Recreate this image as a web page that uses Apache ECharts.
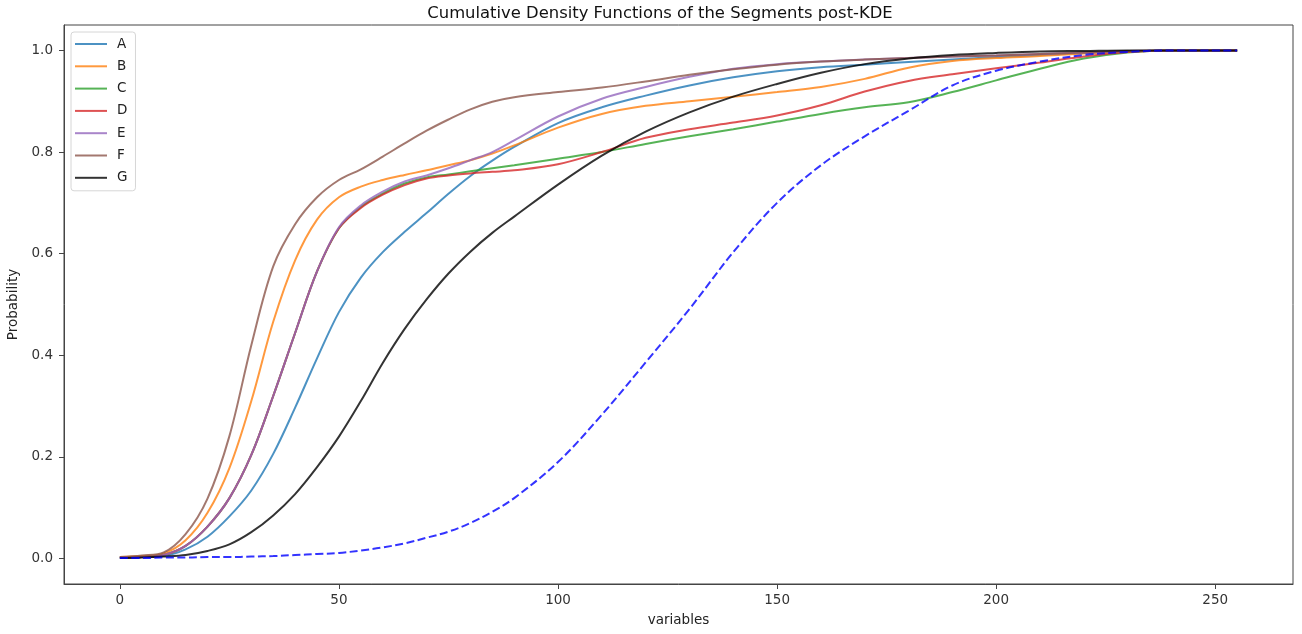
<!DOCTYPE html>
<html style="height:100%">
<head>
    <meta charset="utf-8">
    <script src="https://cdn.jsdelivr.net/npm/echarts@6/dist/echarts.min.js"></script>
    <title>CDF of the segments</title>
</head>
<body style="height:100%; margin:0; background:#fff">
    <div id="container" style="width:1302px; height:634px"></div>
    <script>
    var myChart = echarts.init(document.getElementById('container'));

    // x positions where the curves were read
    const xs = [0, 5, 10, 15, 20, 25, 30, 35, 40, 45, 50, 55, 60, 65, 70, 75, 80, 85, 90,
        100, 110, 120, 130, 140, 150, 160, 170, 180, 190, 200, 210, 220, 230, 240, 255];

    // CDF values per segment
    const segA = [0.002, 0.003, 0.005, 0.018, 0.043, 0.083, 0.134, 0.206, 0.297, 0.394, 0.485, 0.553, 0.603, 0.643, 0.680, 0.718, 0.753, 0.783, 0.810,
        0.857, 0.888, 0.911, 0.931, 0.947, 0.959, 0.967, 0.972, 0.977, 0.982, 0.987, 0.991, 0.995, 0.998, 1.0, 1.0];
    const segB = [0.003, 0.005, 0.010, 0.036, 0.090, 0.178, 0.310, 0.466, 0.587, 0.667, 0.711, 0.732, 0.745, 0.755, 0.764, 0.774, 0.784, 0.797, 0.813,
        0.848, 0.875, 0.891, 0.900, 0.909, 0.918, 0.928, 0.944, 0.966, 0.979, 0.985, 0.989, 0.994, 0.998, 1.0, 1.0];
    const segC = [0.002, 0.003, 0.007, 0.025, 0.063, 0.119, 0.204, 0.320, 0.444, 0.565, 0.650, 0.692, 0.718, 0.738, 0.750, 0.756, 0.762, 0.768, 0.774,
        0.787, 0.800, 0.816, 0.831, 0.845, 0.860, 0.875, 0.888, 0.898, 0.918, 0.941, 0.964, 0.984, 0.996, 1.0, 1.0];
    const segD = [0.002, 0.003, 0.007, 0.025, 0.063, 0.119, 0.204, 0.320, 0.444, 0.565, 0.650, 0.690, 0.716, 0.735, 0.748, 0.754, 0.758, 0.761, 0.764,
        0.776, 0.800, 0.828, 0.845, 0.858, 0.872, 0.892, 0.919, 0.940, 0.953, 0.965, 0.976, 0.988, 0.997, 1.0, 1.0];
    const segE = [0.002, 0.003, 0.007, 0.025, 0.063, 0.119, 0.204, 0.320, 0.444, 0.565, 0.652, 0.695, 0.722, 0.742, 0.754, 0.768, 0.784, 0.800, 0.823,
        0.870, 0.905, 0.928, 0.948, 0.964, 0.973, 0.978, 0.982, 0.985, 0.988, 0.990, 0.993, 0.996, 0.999, 1.0, 1.0];
    const segF = [0.003, 0.006, 0.012, 0.048, 0.118, 0.241, 0.420, 0.575, 0.658, 0.711, 0.745, 0.766, 0.791, 0.817, 0.842, 0.864, 0.884, 0.899, 0.908,
        0.918, 0.927, 0.939, 0.952, 0.963, 0.972, 0.978, 0.982, 0.985, 0.988, 0.990, 0.993, 0.996, 0.999, 1.0, 1.0];
    const segG = [0.001, 0.002, 0.004, 0.007, 0.015, 0.028, 0.052, 0.085, 0.127, 0.180, 0.240, 0.310, 0.385, 0.452, 0.510, 0.561, 0.604, 0.641, 0.673,
        0.736, 0.793, 0.840, 0.878, 0.909, 0.934, 0.956, 0.973, 0.984, 0.991, 0.995, 0.998, 0.999, 1.0, 1.0, 1.0];
    // dashed blue reference curve
    const reference = [0.001, 0.001, 0.002, 0.002, 0.003, 0.003, 0.004, 0.005, 0.007, 0.009, 0.011, 0.016, 0.022, 0.030, 0.041, 0.053, 0.070, 0.092, 0.119,
        0.190, 0.283, 0.386, 0.491, 0.603, 0.700, 0.774, 0.831, 0.881, 0.931, 0.960, 0.978, 0.991, 0.997, 1.0, 1.0];

    const segNames = ['A', 'B', 'C', 'D', 'E', 'F', 'G'];
    const segData = [segA, segB, segC, segD, segE, segF, segG];
    const segColors = ['#1f77b4', '#ff7f0e', '#2ca02c', '#d62728', '#9467bd', '#8c564b', '#000000'];

    const xTicks = [0, 50, 100, 150, 200, 250];
    const yTicks = [0, 0.2, 0.4, 0.6, 0.8, 1.0];

    const pairs = function(ys) {
        return xs.map(function(x, i) { return [x, ys[i]]; });
    };

    const font = 'DejaVu Sans';
    // flat bar used as legend sample, keeps matplotlib's line look
    const lineIcon = 'path://M0,0 L32,0 L32,2 L0,2 Z';

    var series = segNames.map(function(name, i) {
        return {
            name: name,
            type: 'line',
            data: pairs(segData[i]),
            symbol: 'none',
            smooth: 0.35,
            lineStyle: { color: segColors[i], width: 2, opacity: 0.8 },
            itemStyle: { color: segColors[i], opacity: 0.8 }
        };
    });
    series.push({
        name: 'all',
        type: 'line',
        data: pairs(reference),
        symbol: 'none',
        smooth: 0.35,
        lineStyle: { color: '#0000ff', width: 2, opacity: 0.8, type: [8, 3.5] }
    });

    var option = {
        animation: false,
        backgroundColor: '#fff',
        textStyle: { fontFamily: font },
        title: {
            text: 'Cumulative Density Functions of the Segments post-KDE',
            left: 655,
            textAlign: 'center',
            top: 1,
            textStyle: { fontFamily: font, fontSize: 16.4, fontWeight: 'normal', color: '#111' }
        },
        grid: {
            left: 64, right: 9, top: 25, bottom: 50,
            show: true,
            borderColor: '#444',
            borderWidth: 1,
            outerBoundsMode: 'none'
        },
        legend: {
            data: segNames.map(function(n) { return { name: n, icon: lineIcon }; }),
            orient: 'vertical',
            left: 71,
            top: 32,
            itemWidth: 32,
            itemHeight: 14,
            itemGap: 8.3,
            padding: [5, 8, 6, 4],
            backgroundColor: 'rgba(255,255,255,0.8)',
            borderColor: '#d6d6d6',
            borderWidth: 1,
            borderRadius: 3,
            textStyle: { fontFamily: font, fontSize: 13.5, color: '#222', padding: [0, 0, 0, 5] }
        },
        xAxis: {
            type: 'value',
            min: -12.75,
            max: 267.75,
            name: 'variables',
            nameLocation: 'middle',
            nameGap: 29,
            nameTextStyle: { fontFamily: font, fontSize: 13.5, color: '#222' },
            axisLine: { show: true, onZero: false, lineStyle: { color: '#444' } },
            axisTick: { show: true, length: 5, lineStyle: { color: '#444' }, customValues: xTicks },
            axisLabel: { fontFamily: font, fontSize: 13.5, color: '#333', margin: 9, customValues: xTicks },
            splitLine: { show: false }
        },
        yAxis: {
            type: 'value',
            min: -0.05,
            max: 1.05,
            name: 'Probability',
            nameLocation: 'middle',
            nameGap: 37,
            nameTextStyle: { fontFamily: font, fontSize: 13.5, color: '#222' },
            axisLine: { show: true, onZero: false, lineStyle: { color: '#444' } },
            axisTick: { show: true, length: 5, lineStyle: { color: '#444' }, customValues: yTicks },
            axisLabel: {
                fontFamily: font, fontSize: 13.5, color: '#333', margin: 11,
                customValues: yTicks,
                formatter: function(v) { return v.toFixed(1); }
            },
            splitLine: { show: false }
        },
        series: series
    };

    myChart.setOption(option);
    </script>
</body>
</html>
